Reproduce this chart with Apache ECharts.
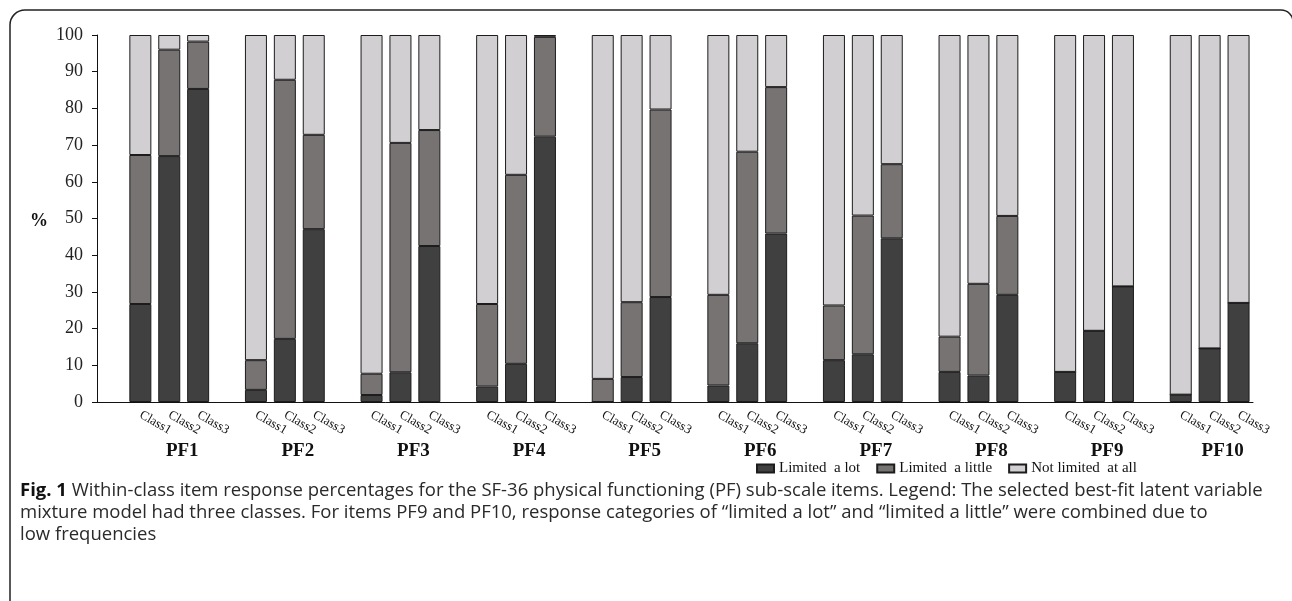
<!DOCTYPE html>
<html>
<head>
<meta charset="utf-8">
<script src="https://cdn.jsdelivr.net/npm/echarts@6/dist/echarts.min.js"></script>
<style>
  html, body { margin: 0; padding: 0; background: #ffffff; }
  #chart { width: 1292px; height: 601px; }
</style>
</head>
<body>
<div id="chart"></div>
<script>
// ---- data ----
const groups = ['PF1', 'PF2', 'PF3', 'PF4', 'PF5', 'PF6', 'PF7', 'PF8', 'PF9', 'PF10'];
const classes = ['Class1', 'Class2', 'Class3'];
const seriesNames = ['Limited  a lot', 'Limited  a little', 'Not limited  at all'];
// per group: Class1, Class2, Class3
const limitedALot = [
  26.7, 67.0, 85.3,
  3.3, 17.2, 47.1,
  1.9, 8.1, 42.5,
  4.2, 10.4, 72.3,
  0, 6.8, 28.6,
  4.5, 16.0, 45.9,
  11.4, 13.0, 44.6,
  8.2, 7.2, 29.2,
  8.2, 19.4, 31.5,
  2.0, 14.6, 27.0
];
const limitedALittle = [
  40.6, 29.0, 12.9,
  8.1, 70.6, 25.7,
  5.8, 62.5, 31.6,
  22.5, 51.5, 27.2,
  6.3, 20.4, 51.1,
  24.7, 52.2, 39.9,
  14.9, 37.8, 20.2,
  9.6, 25.0, 21.5,
  0, 0, 0,
  0, 0, 0
];
const notLimited = [
  32.7, 4.0, 1.8,
  88.6, 12.2, 27.2,
  92.3, 29.4, 25.9,
  73.3, 38.1, 0.5,
  93.7, 72.8, 20.3,
  70.8, 31.8, 14.2,
  73.7, 49.2, 35.2,
  82.2, 67.8, 49.3,
  91.8, 80.6, 68.5,
  98.0, 85.4, 73.0
];
const yTicks = [0, 10, 20, 30, 40, 50, 60, 70, 80, 90, 100];
const captionBold = 'Fig. 1';
const captionLines = [
  ' Within-class item response percentages for the SF-36 physical functioning (PF) sub-scale items. Legend: The selected best-fit latent variable',
  'mixture model had three classes. For items PF9 and PF10, response categories of \u201climited a lot\u201d and \u201climited a little\u201d were combined due to',
  'low frequencies'
];

// ---- build category slots: an empty slot before each group ----
const cats = [];
const slotData = [[], [], []];
const srcs = [limitedALot, limitedALittle, notLimited];
groups.forEach(function (g, gi) {
  cats.push(g + '|');
  slotData.forEach(function (arr) { arr.push('-'); });
  classes.forEach(function (c, ci) {
    cats.push(g + '|' + c);
    srcs.forEach(function (src, si) { slotData[si].push(src[gi * 3 + ci]); });
  });
});

const colors = ['#404040', '#787373', '#d1cfd1'];
const serif = 'Liberation Serif';

const chart = echarts.init(document.getElementById('chart'), null, { renderer: 'canvas' });
chart.setOption({
  animation: false,
  backgroundColor: '#ffffff',
  grid: { left: 97, top: 35, width: 1156, height: 367, containLabel: false },
  legend: {
    left: 751, top: 456,
    itemWidth: 17, itemHeight: 8, itemGap: 16,
    icon: 'rect',
    textStyle: { fontFamily: serif, fontSize: 15, color: '#111' },
    data: seriesNames
  },
  xAxis: [{
    type: 'category',
    position: 'bottom',
    data: cats,
    axisLine: { lineStyle: { color: '#111', width: 1 } },
    axisTick: { alignWithLabel: true, length: 5, lineStyle: { color: '#111' } },
    axisLabel: {
      interval: 0, rotate: -30, margin: 12,
      fontFamily: serif, fontSize: 13, color: '#111',
      formatter: function (v) { return v.split('|')[1]; }
    }
  }, {
    type: 'category',
    position: 'bottom',
    data: cats,
    axisLine: { show: false },
    axisTick: { show: false },
    axisLabel: {
      interval: 0, margin: 40,
      fontFamily: serif, fontWeight: 'bold', fontSize: 19, color: '#111',
      padding: [0, 0, 0, 26],
      formatter: function (v) {
        const p = v.split('|');
        return p[1] === classes[1] ? p[0] : '';
      }
    }
  }],
  yAxis: {
    type: 'value', min: 0, max: 100, interval: 10,
    axisLine: { show: true, lineStyle: { color: '#111', width: 1 } },
    axisTick: { show: true, length: 5, lineStyle: { color: '#111' } },
    splitLine: { show: false },
    axisLabel: {
      margin: 14, fontFamily: serif, fontSize: 18, color: '#222',
      formatter: function (v) { return yTicks.indexOf(v) >= 0 ? String(v) : ''; }
    }
  },
  series: seriesNames.map(function (name, i) {
    return {
      name: name,
      type: 'bar',
      stack: 'total',
      barWidth: 22,
      data: slotData[i],
      itemStyle: { color: colors[i], borderColor: '#1c1c1c', borderWidth: 1 }
    };
  }),
  graphic: [{
    type: 'rect',
    shape: { x: 10, y: 10, width: 1283, height: 700, r: [15, 12, 0, 0] },
    style: { fill: 'none', stroke: '#222', lineWidth: 1.5 },
    silent: true
  }, {
    type: 'text',
    left: 30, top: 212,
    style: { text: '%', fontFamily: serif, fontWeight: 'bold', fontSize: 18, fill: '#111' }
  }, {
    type: 'text',
    left: 20, top: 480,
    style: {
      text: '{b|' + captionBold + '}' + captionLines.join('\n'),
      fontFamily: 'Open Sans', fontSize: 18.5, fill: '#2a2a2a', lineHeight: 22,
      rich: { b: { fontFamily: 'Open Sans', fontWeight: 'bold', fontSize: 18.5, fill: '#111', lineHeight: 22 } }
    }
  }]
});
</script>
</body>
</html>
